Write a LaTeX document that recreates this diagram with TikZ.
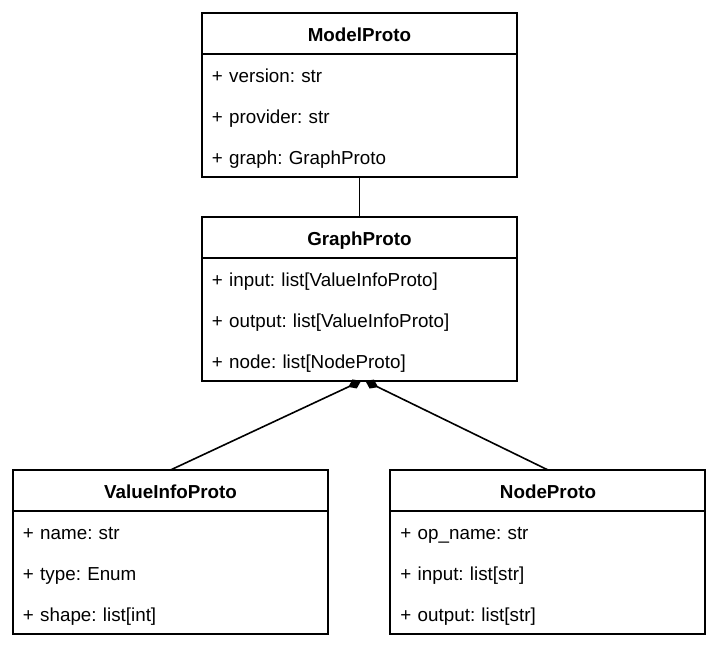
\documentclass[tikz,border=0pt]{standalone}
\usepackage{fontspec}
\setmainfont{Liberation Sans}
\usetikzlibrary{arrows.meta, positioning}
\frenchspacing

\begin{document}
\begin{tikzpicture}[
  x=0.5pt, y=-0.5pt,
  node distance=20pt,
  head/.style={draw, line width=1pt, outer sep=0pt, inner sep=0pt, minimum width=157.5pt, minimum height=20.5pt, text height=7.9pt, text depth=0pt, font=\fontsize{9.4}{11}\selectfont\bfseries},
  body/.style={draw, line width=1pt, outer sep=0pt, inner xsep=5pt, inner ysep=0pt, minimum width=157.5pt, minimum height=61.5pt, text width=147.5pt, align=left, font=\fontsize{9.4}{20.5}\selectfont, execute at begin node=\rule{0pt}{10pt}},
  comp/.style={{Diamond[length=7pt,width=5pt]}-, line width=0.8pt}
]
\useasboundingbox (0,0) rectangle (720,651);

\node[head] (model) at (359.5,33.5) {ModelProto};
\node[body, below=0pt of model] (modelbody) {+ version: str\\+ provider: str\\+ graph: GraphProto};

\node[head, below=of modelbody] (graph) {GraphProto};
\node[body, below=0pt of graph] (graphbody) {+ input: list[ValueInfoProto]\\+ output: list[ValueInfoProto]\\+ node: list[NodeProto]};

\node[head, below=44.5pt of graphbody, xshift=-94.5pt] (valueinfo) {ValueInfoProto};
\node[body, below=0pt of valueinfo] (valueinfobody) {+ name: str\\+ type: Enum\\+ shape: list[int]};

\node[head, below=44.5pt of graphbody, xshift=94.25pt] (nodeproto) {NodeProto};
\node[body, below=0pt of nodeproto] (nodeprotobody) {+ op\_name: str\\+ input: list[str]\\+ output: list[str]};

\draw[line width=0.8pt] (modelbody) -- (graph);
\draw[comp] ([xshift=0.75pt]graphbody.south) -- (valueinfo.north);
\draw[comp] ([xshift=3pt]graphbody.south) -- (nodeproto.north);
\end{tikzpicture}
\end{document}
